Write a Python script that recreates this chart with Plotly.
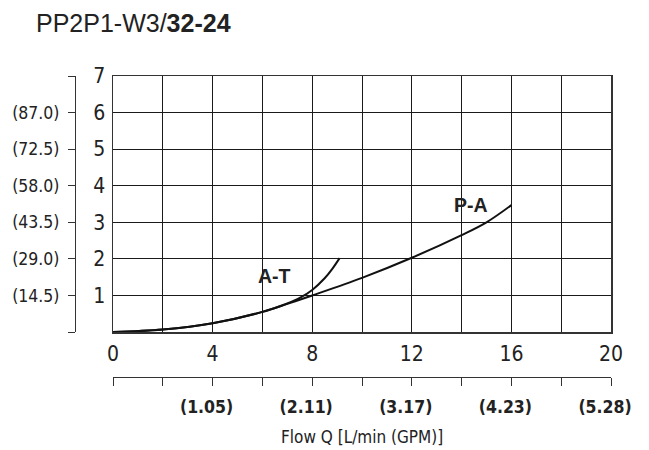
import plotly.graph_objects as go

# Data
flow_pa = [0, 2, 4, 6, 7, 8, 10, 12, 14, 15, 16]
dp_pa = [0, 0.07, 0.24, 0.55, 0.77, 1.0, 1.48, 2.03, 2.65, 3.0, 3.47]

flow_at = [0, 2, 4, 6, 7, 7.5, 8, 8.5, 8.8, 9.1]
dp_at = [0, 0.07, 0.24, 0.55, 0.78, 0.93, 1.15, 1.47, 1.72, 2.02]

x_ticks = list(range(0, 21, 2))
x_ticktext = ["0", "", "4", "", "8", "", "12", "", "16", "", "20"]
gpm_ticktext = ["", "", "(1.05)", "", "(2.11)", "", "(3.17)", "", "(4.23)", "", "(5.28)"]

y_ticks = list(range(0, 8))
y_ticktext = ["", "1", "2", "3", "4", "5", "6", "7"]
psi_ticktext = ["", "(14.5)", "(29.0)", "(43.5)", "(58.0)", "(72.5)", "(87.0)", ""]

title_regular = "PP2P1-W3/"
title_bold = "32-24"
x_title = "Flow Q [L/min (GPM)]"

COND = "Liberation Sans Narrow, DejaVu Sans Condensed, Arial Narrow, sans-serif"
REG = "Liberation Sans, Arial, Helvetica, sans-serif"
INK = "#222222"

fig = go.Figure()
fig.add_trace(go.Scatter(x=flow_pa, y=dp_pa, mode="lines", line=dict(color="#111", width=2, shape="spline"),
                         showlegend=False, hoverinfo="skip"))
fig.add_trace(go.Scatter(x=flow_at, y=dp_at, mode="lines", line=dict(color="#111", width=2, shape="spline"),
                         showlegend=False, hoverinfo="skip"))
# invisible traces to anchor secondary axes
fig.add_trace(go.Scatter(x=[0], y=[0], xaxis="x", yaxis="y2", mode="markers", marker=dict(opacity=0),
                         showlegend=False, hoverinfo="skip"))
fig.add_trace(go.Scatter(x=[0], y=[0], xaxis="x2", yaxis="y", mode="markers", marker=dict(opacity=0),
                         showlegend=False, hoverinfo="skip"))

L, R, T, B = 20, 38, 76, 20
W, H = 649, 450
pw, ph = W - L - R, H - T - B

def px2x(px):
    return (px - L) / pw

def px2y(py):
    return (H - B - py) / ph

fig.update_layout(
    width=W, height=H,
    margin=dict(l=L, r=R, t=T, b=B),
    paper_bgcolor="white", plot_bgcolor="white",
    hovermode=False,
    xaxis=dict(domain=[px2x(113), 1], range=[0, 20], tickvals=x_ticks, ticktext=x_ticktext,
               showgrid=True, gridcolor="#1a1a1a", gridwidth=1, zeroline=False,
               showline=True, linecolor="#333", linewidth=1.5, mirror=True,
               ticks="", ticklabelstandoff=2, tickfont=dict(family=COND, size=21, color=INK)),
    yaxis=dict(domain=[px2y(332), 1], range=[0, 7], tickvals=y_ticks, ticktext=y_ticktext,
               showgrid=True, gridcolor="#1a1a1a", gridwidth=1, zeroline=False,
               showline=True, linecolor="#333", linewidth=1.5, mirror=True,
               ticks="", ticklabelstandoff=2, tickfont=dict(family=COND, size=21, color=INK)),
    yaxis2=dict(overlaying="y", anchor="free", position=px2x(75), side="left", range=[0, 7],
                tickvals=y_ticks, ticktext=psi_ticktext, showgrid=False, zeroline=False,
                showline=True, linecolor="#333", linewidth=1, ticks="outside", ticklen=7,
                tickcolor="#333", ticklabelstandoff=5,
                tickfont=dict(family=COND, size=17.5, color=INK)),
    xaxis2=dict(overlaying="x", anchor="free", position=px2y(377), side="bottom", range=[0, 20],
                tickvals=x_ticks, ticktext=["<b>%s</b>" % t if t else "" for t in gpm_ticktext],
                showgrid=False, zeroline=False, showline=True, linecolor="#333", linewidth=1,
                ticks="outside", ticklen=8, tickcolor="#333", ticklabelstandoff=6, ticklabelshift=-6,
                tickfont=dict(family=COND, size=17.5, color=INK)),
    annotations=[
        dict(text="%s<b>%s</b>" % (title_regular, title_bold), xref="paper", yref="paper",
             x=px2x(34), y=px2y(23), xanchor="left", yanchor="middle", showarrow=False,
             font=dict(family=REG, size=25, color=INK)),
        dict(text=x_title, xref="paper", yref="paper", x=px2x(362), y=px2y(437),
             xanchor="center", yanchor="middle", showarrow=False,
             font=dict(family=COND, size=17, color=INK)),
        dict(text="<b>A-T</b>", xref="x", yref="y", x=6.5, y=1.54, showarrow=False,
             font=dict(family=REG, size=19.5, color=INK)),
        dict(text="<b>P-A</b>", xref="x", yref="y", x=14.38, y=3.47, showarrow=False,
             font=dict(family=REG, size=19.5, color=INK)),
    ],
)

fig.write_html("out.html", config={"displayModeBar": False, "staticPlot": True},
               post_script="document.body.style.margin='0';document.body.style.padding='0';")
